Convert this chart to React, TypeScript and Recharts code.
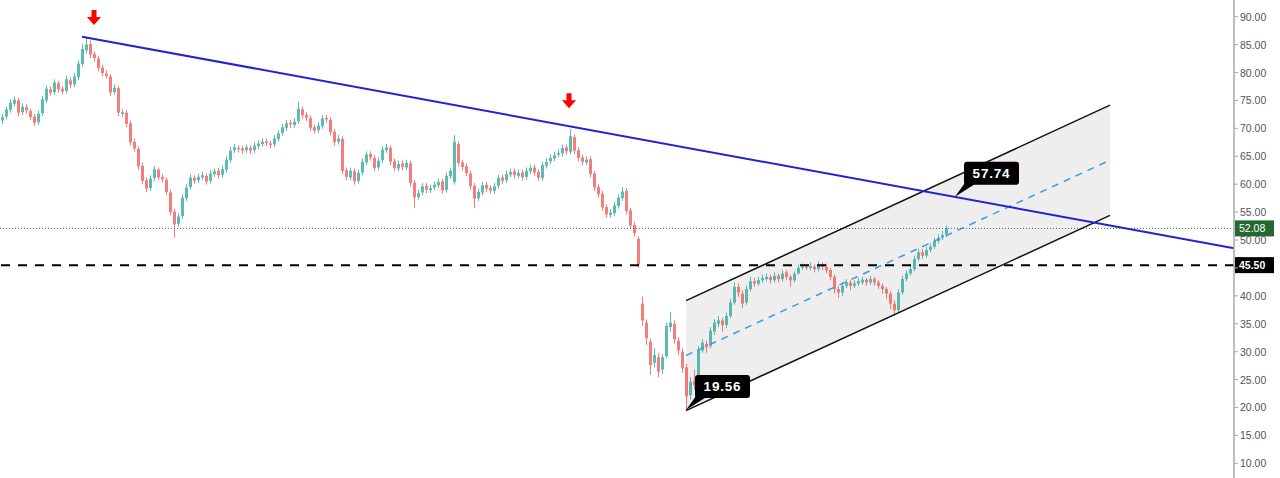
import React from 'react'
import { ComposedChart, Bar, Area, XAxis, YAxis, ReferenceLine, ReferenceDot } from 'recharts'

// daily candles (one candle every ~4px)
const opens = [
  71.4, 72.1, 73.3, 74.4, 75.0, 72.9, 73.8, 73.1, 72.1, 71.1,
  72.7, 75.0, 77.0, 76.5, 78.1, 77.1, 76.7, 78.6, 77.9, 79.2,
  81.5, 84.0, 85.1, 83.3, 82.5, 80.9, 79.8, 79.3, 76.5, 77.2,
  72.6, 72.8, 70.9, 67.6, 66.3, 63.3, 60.7, 59.3, 61.1, 62.6,
  61.3, 60.8, 58.5, 55.1, 52.9, 54.3, 57.5, 59.5, 61.1, 60.7,
  61.2, 61.5, 60.6, 61.8, 62.4, 61.7, 62.6, 64.3, 66.1, 66.5,
  66.4, 66.1, 66.5, 66.1, 66.8, 67.2, 67.7, 67.3, 67.1, 68.1,
  69.2, 70.1, 71.0, 70.6, 71.3, 73.4, 72.4, 71.8, 70.2, 69.7,
  70.4, 71.9, 71.5, 69.4, 67.6, 68.1, 62.5, 61.2, 62.3, 60.6,
  62.1, 63.9, 65.4, 64.7, 63.0, 64.3, 66.1, 66.5, 64.1, 62.8,
  63.7, 63.0, 63.7, 60.3, 57.7, 58.5, 59.7, 58.9, 59.4, 59.8,
  60.5, 59.0, 61.4, 60.4, 67.2, 63.9, 63.2, 61.9, 59.7, 57.5,
  58.5, 59.9, 59.3, 58.8, 59.7, 61.2, 60.7, 61.7, 62.3, 61.5,
  62.1, 61.3, 62.3, 63.0, 62.2, 61.1, 63.3, 64.1, 64.6, 65.3,
  65.5, 66.6, 65.8, 68.4, 66.1, 64.8, 63.9, 64.5, 61.9, 59.5,
  58.3, 55.9, 54.5, 54.8, 56.1, 57.5, 58.8, 55.3, 52.7, 50.2,
  38.6, 35.2, 31.8, 28.0, 29.0, 26.8, 29.2, 34.4, 35.0, 32.0,
  30.0, 27.2, 22.2, 24.8, 24.2, 30.2, 31.4, 31.0, 33.6, 35.0,
  35.6, 34.8, 36.4, 38.8, 41.6, 40.4, 38.8, 41.2, 42.6, 42.2,
  42.8, 43.0, 43.4, 42.8, 43.6, 43.0, 44.2, 43.4, 42.8, 44.0,
  45.0, 45.2, 45.0, 45.2, 44.8, 45.6, 45.2, 44.6, 43.4, 41.2,
  40.6, 41.8, 42.4, 41.8, 42.2, 42.4, 42.9, 42.4, 43.0, 42.4,
  41.8, 41.2, 40.4, 38.6, 37.4, 40.6, 43.0, 44.0, 44.8, 46.6,
  47.8, 47.2, 48.2, 48.8, 49.8, 50.4, 51.0,
]
const highs = [
  72.6, 73.9, 75.2, 75.7, 75.4, 74.5, 74.3, 73.5, 72.6, 73.2,
  75.8, 77.6, 77.5, 78.8, 78.5, 77.6, 79.4, 79.1, 79.9, 82.2,
  85.1, 86.4, 85.7, 83.8, 83.0, 81.4, 80.4, 79.7, 77.9, 77.6,
  73.5, 73.3, 71.4, 68.2, 66.8, 63.9, 61.2, 61.6, 63.3, 63.0,
  61.8, 61.2, 59.0, 55.6, 54.8, 58.2, 60.0, 61.8, 61.6, 61.9,
  62.2, 61.9, 62.5, 62.8, 62.9, 63.3, 65.0, 66.6, 67.2, 67.0,
  66.9, 67.1, 67.0, 67.5, 67.9, 68.2, 68.2, 67.8, 68.8, 69.7,
  70.8, 71.5, 71.5, 71.8, 74.7, 73.9, 72.9, 72.3, 70.7, 71.1,
  72.4, 72.4, 72.0, 69.9, 68.8, 68.6, 63.0, 63.0, 62.8, 62.6,
  64.6, 65.9, 65.9, 65.2, 64.8, 66.8, 67.2, 67.0, 64.6, 64.2,
  64.2, 64.4, 64.2, 60.8, 59.0, 60.2, 60.2, 59.9, 60.5, 61.0,
  61.0, 62.1, 63.0, 68.8, 67.7, 64.4, 63.7, 62.4, 60.2, 59.2,
  60.4, 60.4, 59.8, 60.2, 61.7, 61.7, 62.4, 62.8, 62.8, 62.6,
  62.6, 63.0, 63.5, 63.5, 62.7, 64.0, 64.6, 65.3, 65.8, 66.2,
  67.1, 67.1, 69.9, 68.9, 66.6, 65.3, 65.0, 65.0, 62.4, 60.0,
  58.8, 56.4, 55.5, 56.8, 58.2, 59.5, 59.3, 55.8, 53.2, 50.6,
  39.9, 35.8, 32.4, 30.6, 29.8, 29.6, 35.2, 37.1, 35.6, 32.6,
  30.6, 27.8, 25.4, 26.8, 31.0, 32.2, 32.0, 34.4, 35.8, 36.4,
  36.0, 37.0, 39.4, 42.4, 42.2, 41.0, 41.8, 43.4, 43.2, 43.4,
  43.8, 44.0, 43.8, 44.2, 44.0, 44.6, 44.6, 43.8, 44.4, 45.6,
  45.8, 45.6, 46.0, 45.6, 46.2, 46.0, 45.8, 45.0, 43.8, 41.8,
  42.4, 43.0, 42.8, 42.8, 43.2, 43.4, 43.2, 43.6, 43.4, 42.8,
  42.2, 41.6, 40.8, 39.2, 41.2, 43.6, 44.6, 45.4, 47.2, 48.4,
  48.4, 48.8, 49.4, 50.4, 51.0, 51.6, 52.6,
]
const lows = [
  70.8, 71.6, 72.8, 73.9, 72.2, 72.4, 72.6, 71.5, 70.4, 70.6,
  72.2, 74.5, 75.9, 76.0, 76.4, 76.1, 76.2, 77.2, 77.4, 78.7,
  81.0, 83.4, 82.6, 82.0, 80.2, 79.3, 78.9, 75.8, 76.0, 72.2,
  72.0, 70.2, 66.9, 65.8, 62.6, 60.0, 58.6, 58.8, 60.6, 60.7,
  60.3, 58.0, 54.4, 50.4, 52.3, 53.8, 57.0, 59.0, 60.1, 60.2,
  60.7, 59.9, 60.1, 61.3, 61.0, 61.2, 62.1, 63.8, 65.6, 65.7,
  65.4, 65.6, 65.4, 65.6, 66.3, 66.7, 66.8, 66.4, 66.6, 67.6,
  68.7, 69.6, 70.1, 70.1, 70.8, 71.7, 71.3, 69.5, 69.0, 69.2,
  69.9, 71.0, 68.7, 66.9, 67.1, 61.8, 60.7, 60.7, 59.9, 60.1,
  61.6, 63.4, 64.2, 62.3, 62.5, 63.8, 65.6, 63.4, 62.3, 62.3,
  62.5, 62.5, 59.6, 55.7, 57.2, 58.0, 58.4, 58.4, 58.9, 59.3,
  58.3, 58.5, 60.9, 59.9, 63.2, 62.5, 61.4, 59.0, 55.7, 57.0,
  58.0, 58.6, 58.3, 58.3, 59.2, 60.0, 60.2, 61.2, 61.0, 61.0,
  60.6, 60.8, 61.8, 61.5, 60.6, 60.6, 62.8, 63.6, 64.1, 64.8,
  65.0, 65.3, 65.3, 65.4, 64.1, 63.4, 63.4, 61.2, 58.8, 57.6,
  55.2, 54.0, 54.0, 54.3, 55.6, 57.0, 54.6, 52.0, 50.6, 45.0,
  34.6, 31.2, 25.8, 27.2, 25.4, 26.0, 28.8, 33.6, 31.4, 29.4,
  26.2, 19.56, 21.4, 23.2, 23.8, 29.8, 29.8, 30.6, 33.0, 34.4,
  33.6, 34.2, 36.0, 38.4, 39.8, 37.8, 38.4, 40.8, 41.6, 41.8,
  42.4, 42.6, 42.2, 42.4, 42.4, 42.6, 42.8, 41.6, 42.4, 43.8,
  44.6, 44.6, 44.6, 44.2, 44.4, 44.6, 44.0, 42.8, 40.4, 39.6,
  40.0, 41.4, 41.0, 41.4, 41.8, 42.0, 41.8, 42.0, 41.8, 41.2,
  40.4, 39.4, 37.6, 36.4, 37.0, 40.2, 42.6, 43.6, 44.4, 46.2,
  46.6, 46.8, 47.8, 48.4, 49.4, 50.0, 50.6,
]
const closes = [
  72.0, 73.4, 74.6, 75.1, 72.8, 73.9, 73.2, 72.0, 71.0, 72.6,
  75.2, 77.1, 76.4, 78.2, 77.0, 76.6, 78.8, 77.8, 79.3, 81.6,
  84.2, 85.0, 83.2, 82.6, 80.8, 79.9, 79.4, 76.4, 77.3, 72.8,
  72.9, 70.8, 67.5, 66.4, 63.2, 60.6, 59.2, 61.0, 62.7, 61.2,
  60.9, 58.6, 55.0, 52.8, 54.2, 57.6, 59.4, 61.2, 60.6, 61.3,
  61.6, 60.5, 61.9, 62.3, 61.6, 62.7, 64.4, 66.0, 66.6, 66.3,
  66.0, 66.6, 66.0, 66.9, 67.3, 67.6, 67.4, 67.0, 68.2, 69.1,
  70.2, 70.9, 70.7, 71.2, 73.5, 72.3, 71.9, 70.1, 69.6, 70.5,
  71.8, 71.6, 69.3, 67.5, 68.2, 62.4, 61.3, 62.4, 60.5, 62.0,
  64.0, 65.3, 64.8, 62.9, 64.2, 66.2, 66.6, 64.0, 62.9, 63.6,
  63.1, 63.8, 60.2, 57.6, 58.4, 59.6, 59.0, 59.3, 59.9, 60.4,
  58.9, 61.5, 62.4, 67.6, 63.8, 63.1, 62.0, 59.6, 57.4, 58.6,
  59.8, 59.2, 58.9, 59.6, 61.1, 60.6, 61.8, 62.2, 61.6, 62.0,
  61.2, 62.4, 62.9, 62.1, 61.2, 63.4, 64.0, 64.7, 65.2, 65.6,
  66.5, 65.9, 68.6, 66.0, 64.7, 64.0, 64.4, 61.8, 59.4, 58.2,
  55.8, 54.6, 54.9, 56.2, 57.6, 58.7, 55.2, 52.6, 51.2, 45.6,
  35.6, 32.4, 27.6, 29.4, 26.4, 29.0, 34.6, 35.2, 32.2, 30.2,
  27.0, 22.0, 24.6, 24.0, 30.4, 31.6, 30.8, 33.8, 35.2, 35.6,
  34.8, 36.4, 38.8, 41.6, 40.6, 38.6, 41.2, 42.6, 42.2, 42.8,
  43.2, 43.4, 42.8, 43.6, 43.0, 44.0, 43.4, 42.8, 44.0, 45.0,
  45.2, 45.0, 45.3, 44.8, 45.6, 45.2, 44.6, 43.4, 41.2, 40.6,
  41.8, 42.4, 41.8, 42.2, 42.6, 42.9, 42.4, 43.0, 42.4, 41.8,
  41.2, 40.4, 38.6, 37.4, 40.6, 43.0, 44.0, 44.8, 46.6, 47.8,
  47.2, 48.2, 48.8, 49.8, 50.4, 50.9, 52.08,
]

const yTicks = [10, 15, 20, 25, 30, 35, 40, 45, 50, 55, 60, 65, 70, 75, 80, 85, 90]
const lastPrice = 52.08
const supportLevel = 45.5

// drawings, in candle-index / price units
const trendline = [{ x: 20, y: 86.42 }, { x: 308, y: 48.52 }]
const channelX = [171, 277]
const channelLower = [19.45, 54.4]
const channelMid = [29.3, 64.3]
const channelUpper = [39.15, 74.15]
const callouts = [
  { x: 171, y: 19.56, text: '19.56' },
  { x: 238.25, y: 57.74, text: '57.74' },
]
const peakArrows = [{ x: 23, y: 88.5 }, { x: 141.75, y: 73.6 }]

const candles = closes.map((c, i) => ({
  i,
  o: opens[i],
  h: highs[i],
  l: lows[i],
  c,
}))

const channelData = channelX.map((x, k) => ({ i: x, band: [channelLower[k], channelUpper[k]] }))

const FONT = '"Liberation Sans", Arial, sans-serif'

function Candle(props: any) {
  const { x, y, width, height, payload } = props
  if (!payload || height == null) return null
  const { o, h, l, c } = payload
  const top = Math.min(y, y + height)
  const hgt = Math.abs(height)
  const ppu = h - l > 0 ? hgt / (h - l) : 0
  const bodyTop = top + (h - Math.max(o, c)) * ppu
  const bodyH = Math.max(1, Math.abs(o - c) * ppu)
  const cx = Math.round(x + width / 2)
  const color = c >= o ? '#26a69a' : '#ef5350'
  return (
    <g opacity={0.75}>
      <line x1={cx + 0.5} x2={cx + 0.5} y1={top} y2={top + hgt} stroke={color} strokeWidth={1} />
      <rect x={cx - 1} y={bodyTop} width={3} height={bodyH} fill={color} />
    </g>
  )
}

function Callout(props: any) {
  const { cx, cy, text } = props
  if (cx == null) return null
  return (
    <g>
      <polygon points={`${cx},${cy} ${cx + 10},${cy - 14} ${cx + 22},${cy - 14}`} fill="#000" />
      <rect x={cx + 9} y={cy - 35} width={55} height={23} rx={3} fill="#000" />
      <text
        x={cx + 36.5}
        y={cy - 19}
        textAnchor="middle"
        fill="#fff"
        fontSize={13.5}
        fontWeight="bold"
        letterSpacing={0.8}
        fontFamily={FONT}
      >
        {text}
      </text>
    </g>
  )
}

function DownArrow(props: any) {
  const { cx, cy } = props
  if (cx == null) return null
  const d = `M${cx - 2.5},${cy - 15} H${cx + 2.5} V${cy - 8} H${cx + 7} L${cx},${cy} L${cx - 7},${cy - 8} H${cx - 2.5} Z`
  return <path d={d} fill="#ff0000" />
}

function AxisTag({ viewBox, text, bg, bold }: any) {
  if (!viewBox) return null
  const x = viewBox.x + viewBox.width + 1
  const y = viewBox.y
  return (
    <g>
      <rect x={x} y={y - 8} width={39} height={16} fill={bg} />
      <text x={x + 4} y={y + 4} fill="#fff" fontSize={10.5} fontWeight={bold ? 'bold' : 'normal'} fontFamily={FONT}>
        {text}
      </text>
    </g>
  )
}

// the price tag for the support level sits over the 45.00 label
function PriceTick(props: any) {
  const { x, y, payload } = props
  const v = payload?.value
  if (v == null || Math.abs(v - supportLevel) < 1) return null
  return (
    <text x={x} y={y + 4} fill="#555" fontSize={10.5} fontFamily={FONT} textAnchor="start">
      {Number(v).toFixed(2)}
    </text>
  )
}

export default function App() {
  return (
    <div style={{ position: 'absolute', left: 0, top: 0, width: 1280, height: 478, background: '#fff' }}>
      <ComposedChart width={1280} height={478} data={candles} margin={{ top: 0, right: 0, bottom: 0, left: 0 }}>
        <XAxis dataKey="i" type="number" domain={[-0.5, 308]} allowDataOverflow hide />
        <YAxis
          orientation="right"
          width={46}
          domain={[7.37, 92.99]}
          allowDataOverflow
          ticks={yTicks}
          interval={0}
          axisLine={{ stroke: '#a8a8a8', strokeWidth: 1.5 }}
          tickLine={{ stroke: '#a8a8a8' }}
          tickSize={4}
          tick={<PriceTick />}
        />
        <Area
          data={channelData}
          dataKey="band"
          type="linear"
          stroke="none"
          fill="#000"
          fillOpacity={0.065}
          dot={false}
          activeDot={false}
          isAnimationActive={false}
        />
        <ReferenceLine y={lastPrice} stroke="#3b6e4a" strokeDasharray="1 2" strokeWidth={1}
          label={(p: any) => <AxisTag viewBox={p.viewBox} text={lastPrice.toFixed(2)} bg="#23692f" />} />
        <Bar dataKey={(d: any) => [d.l, d.h]} barSize={3} shape={<Candle />} isAnimationActive={false} />
        <ReferenceLine y={supportLevel} stroke="#000" strokeDasharray="9 8" strokeWidth={2}
          label={(p: any) => <AxisTag viewBox={p.viewBox} text={supportLevel.toFixed(2)} bg="#000" bold />} />
        <ReferenceLine
          segment={[{ x: channelX[0], y: channelUpper[0] }, { x: channelX[1], y: channelUpper[1] }]}
          stroke="#111" strokeWidth={1.5}
        />
        <ReferenceLine
          segment={[{ x: channelX[0], y: channelLower[0] }, { x: channelX[1], y: channelLower[1] }]}
          stroke="#111" strokeWidth={1.5}
        />
        <ReferenceLine
          segment={[{ x: channelX[0], y: channelMid[0] }, { x: channelX[1], y: channelMid[1] }]}
          stroke="#3d9be0" strokeWidth={1.5} strokeDasharray="7 6"
        />
        <ReferenceLine segment={trendline} stroke="#2222d4" strokeWidth={2} />
        {peakArrows.map((a, k) => (
          <ReferenceDot key={'a' + k} x={a.x} y={a.y} r={1} shape={(p: any) => <DownArrow {...p} />} />
        ))}
        {callouts.map((c, k) => (
          <ReferenceDot key={'c' + k} x={c.x} y={c.y} r={1} shape={(p: any) => <Callout {...p} text={c.text} />} />
        ))}
      </ComposedChart>
    </div>
  )
}
